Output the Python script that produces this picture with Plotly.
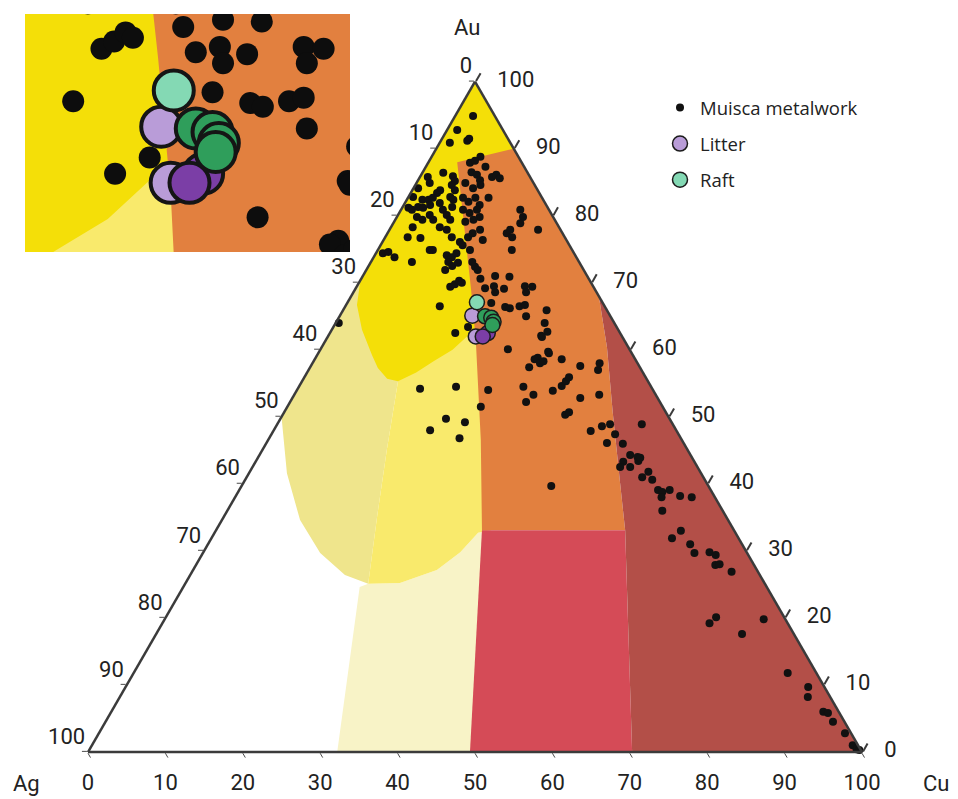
import numpy as np
import plotly.graph_objects as go

# The page has an 8 px body margin, so the figure is drawn at (8, 8)
OFF = 8
FW, FH = 958 - OFF, 799 - OFF


def px(x):
    return (x - OFF) / FW


def py(y):
    return 1 - (y - OFF) / FH


# ---------------- Muisca metalwork analyses (wt%), Au and Cu, Ag = balance
metal_au = [94.9, 92.8, 90.9, 91.2, 91.5, 88.8, 87.9, 88.2, 87.3, 86.4,
            85.9, 85.2, 85.8, 86.5, 86.1, 85.3, 85.8, 86.1, 85.6, 84.9,
            84.1, 83.8, 83.4, 84.6, 83.8, 84.9, 84.1, 84.6, 82.8, 82.4,
            82.4, 82.7, 82.8, 82.4, 82.7, 82.1, 82.7, 81.6, 82.7, 81.2,
            80.9, 81.3, 81.2, 81.6, 81.9, 80.9, 81.3, 80.9, 80.4, 80.9,
            79.8, 80.9, 79.8, 79.8, 79.4, 80.1, 79.4, 80.1, 79.4, 79.1,
            79.4, 78.9, 78.3, 78.3, 77.9, 76.8, 76.8, 76.7, 77.9, 76.4,
            76.8, 77.4, 77.4, 76.8, 77.9, 77.9, 76.1, 75.6, 74.9, 74.9,
            74.1, 73.8, 74.4, 74.9, 74.9, 74.4, 74.6, 73.8, 73.1, 73.1,
            72.5, 73.0, 72.4, 73.1, 69.4, 69.8, 70.3, 70.0, 66.5, 62.5,
            63.4, 70.6, 71.9, 71.0, 70.9, 69.2, 69.5, 68.6, 69.1, 69.5,
            69.4, 68.6, 67.0, 66.4, 66.2, 66.5, 66.7, 65.0, 62.1, 60.1,
            58.8, 71.9, 54.2, 54.5, 54.0, 51.5, 49.7, 49.2, 48.0, 46.8,
            57.4, 58.6, 58.0, 58.3, 59.5, 58.6, 57.6, 57.0, 54.5, 53.3,
            52.2, 53.9, 54.6, 55.3, 55.9, 52.8, 53.3, 50.3, 50.7, 47.9,
            39.7, 65.9, 64.0, 62.7, 61.9, 59.7, 58.0, 48.6, 48.9, 47.4,
            46.1, 46.0, 48.9, 44.3, 44.0, 43.4, 43.3, 42.5, 42.5, 41.8,
            41.0, 43.9, 40.6, 39.1, 38.8, 39.1, 38.0, 38.2, 38.0, 36.0,
            31.9, 33.0, 31.0, 29.7, 29.8, 29.4, 27.9, 28.0, 26.9, 19.2,
            20.1, 17.6, 19.8, 11.8, 9.7, 8.2, 6.0, 5.8, 4.5, 2.8,
            1.0, 0.4, 0.3, 64.0]
metal_cu = [2.3, 1.3, 1.3, 3.4, 3.5, 6.3, 5.4, 5.9, 7.7, 2.7,
            4.2, 4.8, 1.0, 6.3, 7.2, 8.0, 9.3, 9.7, 10.4, 1.7,
            0.6, 3.6, 3.4, 4.7, 5.5, 6.3, 7.7, 8.4, 0.6, 2.0,
            2.8, 3.2, 5.4, 6.0, 7.1, 8.1, 8.7, 9.8, 10.4, 0.8,
            1.4, 2.0, 2.7, 3.4, 4.5, 5.4, 6.4, 8.0, 9.1, 9.8,
            10.7, 15.4, 16.3, 2.6, 3.5, 4.1, 4.9, 6.3, 7.1, 9.2,
            10.1, 16.4, 2.8, 6.3, 7.4, 8.6, 2.9, 4.6, 11.7, 12.8,
            10.7, 11.0, 15.4, 16.4, 15.6, 19.2, 10.0, 10.6, 6.7, 7.1,
            9.3, 10.1, 10.4, 11.9, 17.3, 0.9, 1.5, 2.7, 5.3, 10.0,
            10.8, 11.3, 13.8, 13.1, 12.1, 12.5, 12.8, 13.3, 12.2, 16.2,
            17.4, 15.4, 14.4, 17.1, 19.0, 16.7, 17.7, 18.3, 19.2, 21.7,
            22.7, 22.3, 18.6, 20.7, 21.4, 22.5, 23.1, 24.1, 27.5, 24.2,
            28.7, 10.2, 15.8, 20.3, 24.7, 25.0, 21.4, 24.1, 20.2, 24.6,
            28.3, 28.4, 29.4, 29.7, 29.8, 31.9, 34.8, 37.4, 29.0, 30.9,
            30.5, 33.1, 33.9, 34.1, 34.2, 37.2, 39.4, 36.5, 36.8, 41.0,
            40.0, 26.3, 27.0, 28.0, 27.7, 29.6, 37.1, 42.1, 43.0, 44.4,
            44.0, 46.1, 47.1, 47.9, 49.0, 49.4, 47.5, 47.5, 48.8, 51.5,
            51.1, 49.4, 52.6, 54.1, 54.8, 55.6, 55.1, 57.4, 59.0, 56.2,
            59.5, 60.1, 62.3, 63.5, 65.4, 66.4, 67.1, 67.6, 69.7, 70.7,
            71.1, 75.7, 77.4, 84.5, 88.2, 88.9, 92.0, 92.7, 94.0, 96.4,
            98.3, 99.1, 99.5, 0.4]
metal_ag = [round(100 - a - c, 1) for a, c in zip(metal_au, metal_cu)]

# ---------------- Litter and Raft analyses
litter_au = [65.1, 62.0, 62.5, 62.0]
litter_cu = [17.1, 19.1, 20.4, 20.0]
litter_ag = [round(100 - a - c, 1) for a, c in zip(litter_au, litter_cu)]
litter_colors = ['#B99CD8', '#B99CD8', '#7B3EA6', '#7B3EA6']

raft_au = [67.1, 65.0, 64.8, 64.2, 63.7]
raft_cu = [16.7, 18.8, 19.7, 20.3, 20.4]
raft_ag = [round(100 - a - c, 1) for a, c in zip(raft_au, raft_cu)]
raft_colors = ['#84D9B4', '#2F9E5B', '#2F9E5B', '#2F9E5B', '#2F9E5B']

# ---------------- background colour fields (Au, Cu vertices; Ag = balance)
pale_au = [24.6, 0, 0, 33.1, 32.7, 29.8, 27.15, 25.2, 25.1]
pale_cu = [22.8, 32.2, 50.5, 35.5, 34.05, 33.2, 31.5, 27.7, 23.65]
dull_au = [72, 50, 41.6, 34.6, 29.7, 26.4, 25.1, 35.1, 45.0, 55.3, 64, 72]
dull_cu = [0, 0, 4.9, 10.1, 15.15, 20.0, 23.65, 19.8, 16.1, 12.4, 8, 2]
bulge_au = [55.3, 45.0, 35.1, 25.1, 25.2, 27.15, 29.8, 32.7, 33.5, 66, 64]
bulge_cu = [12.4, 16.1, 19.8, 23.65, 27.7, 31.5, 33.2, 34.05, 37, 22, 12]
yellow_au = [100, 88, 62, 63, 60, 58.3, 56.6, 55.3, 55.7, 57.3, 59.2, 63, 66.7, 70.4]
yellow_cu = [0, 12, 23, 18.4, 17.1, 15.5, 14.1, 12.4, 10.8, 8.8, 7.1, 3.9, 1.4, 0]
orange_au = [88, 90, 68, 60.4, 50.6, 40.6, 33.1, 33.1, 46.5, 61.5, 68.9, 77.9]
orange_cu = [3.7, 10, 32, 36.85, 42.5, 48.4, 52.85, 34.35, 27.5, 19.35, 15.05, 9.7]
pink_au = [33.1, 33.1, 0, 0]
pink_cu = [34.35, 52.85, 70.3, 49.35]
darkred_au = [68, 0, 0, 33.1, 40.6, 50.6, 60.4]
darkred_cu = [32, 100, 70.3, 52.85, 48.4, 42.5, 36.85]

regions = [
    (pale_au, pale_cu, '#F8F3C7'),
    (dull_au, dull_cu, '#EFE58C'),
    (bulge_au, bulge_cu, '#F9EA6C'),
    (yellow_au, yellow_cu, '#F4DF08'),
    (orange_au, orange_cu, '#E2803F'),
    (pink_au, pink_cu, '#D54B57'),
    (darkred_au, darkred_cu, '#B34F48'),
]

# ---------------- axis ticks
tick_vals = [0, 10, 20, 30, 40, 50, 60, 70, 80, 90, 100]
tick_text = [str(v) for v in tick_vals]

TXT = '#222222'
TICKFONT = dict(family='Roboto, Arial, sans-serif', size=22, color=TXT)

fig = go.Figure()

# background fields in the ternary
for au, cu, col in regions:
    ag = [100 - a - c for a, c in zip(au, cu)]
    fig.add_trace(go.Scatterternary(
        a=au, b=ag, c=cu, mode='lines', fill='toself', fillcolor=col,
        line=dict(width=0, color=col), hoverinfo='skip', showlegend=False))

fig.add_trace(go.Scatterternary(
    a=metal_au, b=metal_ag, c=metal_cu, mode='markers', name='Muisca metalwork',
    marker=dict(size=8, color='#111111', line=dict(width=0)),
    legendgroup='m', cliponaxis=False))
fig.add_trace(go.Scatterternary(
    a=litter_au, b=litter_ag, c=litter_cu, mode='markers', name='Litter',
    marker=dict(size=15, color=litter_colors, line=dict(width=1.5, color='#1c1c1c')),
    legendgroup='l', cliponaxis=False))
fig.add_trace(go.Scatterternary(
    a=raft_au, b=raft_ag, c=raft_cu, mode='markers', name='Raft',
    marker=dict(size=15, color=raft_colors, line=dict(width=1.5, color='#1c1c1c')),
    legendgroup='r', cliponaxis=False))

# tick labels (Ag on the left edge, Au on the right edge, Cu along the base)
n = len(tick_vals)
fig.add_trace(go.Scatterternary(
    a=[100 - v for v in tick_vals], b=tick_vals, c=[0] * n, mode='markers+text',
    text=tick_text, textposition='top left', textfont=TICKFONT,
    marker=dict(size=3, opacity=0), cliponaxis=False, hoverinfo='skip', showlegend=False))
fig.add_trace(go.Scatterternary(
    a=tick_vals, b=[0] * n, c=[100 - v for v in tick_vals], mode='markers+text',
    text=tick_text, textposition='middle right', textfont=TICKFONT,
    marker=dict(size=34, opacity=0), cliponaxis=False, hoverinfo='skip', showlegend=False))
fig.add_trace(go.Scatterternary(
    a=[0] * n, b=[100 - v for v in tick_vals], c=tick_vals, mode='markers+text',
    text=tick_text, textposition='bottom center', textfont=TICKFONT,
    marker=dict(size=33, opacity=0), cliponaxis=False, hoverinfo='skip', showlegend=False))

# ---------------- zoomed inset (same data, projected onto the plane)
S3 = np.sqrt(3) / 2


def proj(au, cu):
    au = np.asarray(au, float)
    cu = np.asarray(cu, float)
    return (cu + au / 2) / 100, au * S3 / 100


for au, cu, col in regions:
    x, y = proj(au, cu)
    fig.add_trace(go.Scatter(
        x=x, y=y, mode='lines', fill='toself', fillcolor=col,
        line=dict(width=0, color=col), hoverinfo='skip', showlegend=False,
        xaxis='x', yaxis='y'))
x, y = proj(metal_au, metal_cu)
fig.add_trace(go.Scatter(x=x, y=y, mode='markers', showlegend=False, hoverinfo='skip',
                         marker=dict(size=22, color='#0d0d0d'), xaxis='x', yaxis='y'))
x, y = proj(litter_au, litter_cu)
fig.add_trace(go.Scatter(x=x, y=y, mode='markers', showlegend=False, hoverinfo='skip',
                         marker=dict(size=40, color=litter_colors,
                                     line=dict(width=4, color='#151515')),
                         xaxis='x', yaxis='y'))
x, y = proj(raft_au, raft_cu)
fig.add_trace(go.Scatter(x=x, y=y, mode='markers', showlegend=False, hoverinfo='skip',
                         marker=dict(size=40, color=raft_colors,
                                     line=dict(width=4, color='#151515')),
                         xaxis='x', yaxis='y'))

axis_common = dict(
    min=0, linecolor='#3b3b3b', linewidth=2.5, showgrid=False,
    ticks='outside', ticklen=5, tickwidth=1.2, tickcolor='#4a4a4a',
    tickmode='array', tickvals=tick_vals, showticklabels=False, title=dict(text=''))
caxis_style = dict(axis_common, ticklen=9, tickwidth=2, tickcolor='#3b3b3b')

fig.update_layout(
    width=FW, height=FH,
    margin=dict(l=0, r=0, t=0, b=0),
    paper_bgcolor='white', plot_bgcolor='white',
    ternary=dict(
        sum=100,
        domain=dict(x=[px(88), px(862)], y=[py(752), py(81.7)]),
        bgcolor='white',
        aaxis=axis_common, baxis=axis_common, caxis=caxis_style,
    ),
    xaxis=dict(domain=[px(25), px(350)], range=[0.4315, 0.5866], visible=False,
               fixedrange=True),
    yaxis=dict(domain=[py(252), py(14)], range=[0.5039, 0.6176], visible=False,
               fixedrange=True),
    legend=dict(x=px(660), y=py(89), xanchor='left', yanchor='top',
                font=dict(family='Open Sans, Arial, sans-serif', size=18.5, color=TXT),
                bgcolor='rgba(0,0,0,0)', tracegroupgap=9, itemsizing='trace'),
    annotations=[
        dict(text='Au', x=px(467), y=py(27), xref='paper', yref='paper',
             xanchor='center', yanchor='middle', showarrow=False, font=TICKFONT),
        dict(text='Ag', x=px(26), y=py(783), xref='paper', yref='paper',
             xanchor='center', yanchor='middle', showarrow=False, font=TICKFONT),
        dict(text='Cu', x=px(936), y=py(783), xref='paper', yref='paper',
             xanchor='center', yanchor='middle', showarrow=False, font=TICKFONT),
    ],
)

fig.write_html('out.html')
